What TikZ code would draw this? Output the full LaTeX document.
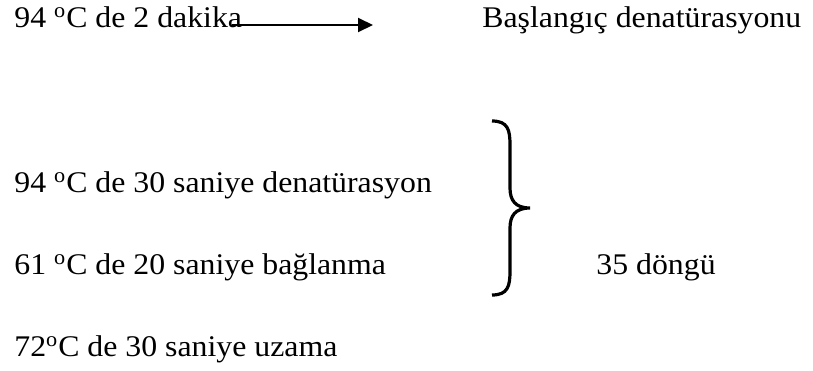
\documentclass[tikz,border=0pt]{standalone}
\usepackage{fontspec}
\setmainfont{Liberation Serif}[FakeStretch=1.06]
\usetikzlibrary{arrows.meta}
\begin{document}
\begin{tikzpicture}[x=0.5pt,y=-0.5pt,
  txt/.style={anchor=base west,inner sep=0pt,font=\fontsize{15pt}{18pt}\selectfont}]
\useasboundingbox (0,0) rectangle (813,370);
\node[txt] (l1) at (14,27.5) {94 \textsuperscript{o}C de 2 dakika};
\node[txt] (r1) at (482,27.5) {Başlangıç denatürasyonu};
\node[txt] (l2) at (14,192.5) {94 \textsuperscript{o}C de 30 saniye denatürasyon};
\node[txt] (l3) at (14,274.5) {61 \textsuperscript{o}C de 20 saniye bağlanma};
\node[txt] (r3) at (596,274.5) {35 döngü};
\node[txt] (l4) at (14,356.5) {72\textsuperscript{o}C de 30 saniye uzama};
\coordinate (as) at (232,25);
\coordinate (ae) at (373,25);
\draw[line width=1pt,-{Triangle[length=7.5pt,width=7pt]}] (as) -- (ae);
\coordinate (bt) at (492,121);
\coordinate (bm) at (530,208);
\coordinate (bb) at (492,295);
\draw[line width=1.6pt] (bt) .. controls (508,121) and (510,130) .. (510,145)
  -- (510,188) .. controls (510,200) and (515,208) .. (bm)
  .. controls (515,208) and (510,216) .. (510,228)
  -- (510,271) .. controls (510,286) and (508,295) .. (bb);
\end{tikzpicture}
\end{document}
